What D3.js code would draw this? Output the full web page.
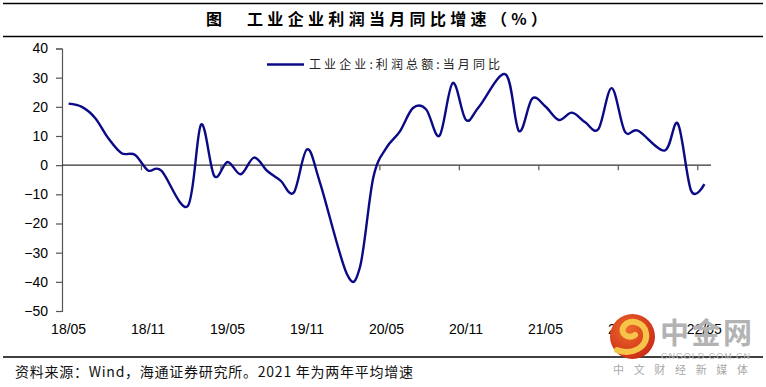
<!DOCTYPE html>
<html lang="zh">
<head>
<meta charset="UTF-8">
<title>工业企业利润当月同比增速</title>
<script src="https://d3js.org/d3.v7.min.js"></script>
<style>
  body { margin: 0; background: #fff; }
  svg text { font-family: "Liberation Sans", Arial, sans-serif; }
  .cjk { font-family: "Noto Sans CJK SC", sans-serif; }
</style>
</head>
<body>
<svg id="chart" width="766" height="387"></svg>
<script>
// months from 2018/05 to 2022/05 (January is merged into Jan-Feb, so it is blank)
const months = [
  "18/05","18/06","18/07","18/08","18/09","18/10","18/11","18/12",
  "19/01","19/02","19/03","19/04","19/05","19/06","19/07","19/08","19/09","19/10","19/11","19/12",
  "20/01","20/02","20/03","20/04","20/05","20/06","20/07","20/08","20/09","20/10","20/11","20/12",
  "21/01","21/02","21/03","21/04","21/05","21/06","21/07","21/08","21/09","21/10","21/11","21/12",
  "22/01","22/02","22/03","22/04","22/05"
];
const profitYoY = [
  21.1, 20.0, 16.2, 9.2, 4.1, 3.6, -1.8, -1.9,
  null, -14.0, 13.9, -3.7, 1.1, -3.1, 2.6, -2.0, -5.3, -9.4, 5.4, -6.3,
  null, -37.2, -34.9, -4.3, 6.0, 11.5, 19.6, 19.1, 10.1, 28.2, 15.5, 20.1,
  null, 31.1, 11.7, 22.8, 20.1, 15.5, 18.0, 14.7, 12.4, 26.4, 11.5, 11.8,
  null, 5.0, 14.2, -8.8, -6.5
];
const xTickLabels = ["18/05","18/11","19/05","19/11","20/05","20/11","21/05","21/11","22/05"];
const yTicks = [40, 30, 20, 10, 0, -10, -20, -30, -40, -50];
const seriesName = "工业企业:利润总额:当月同比";
const title = "工业企业利润当月同比增速（%）";
const source = "资料来源：Wind，海通证券研究所。2021 年为两年平均增速";

const svg = d3.select("#chart");

const x = d3.scaleBand().domain(months).range([62, 711]).padding(0);
const y = d3.scaleLinear().domain([-50, 40]).range([311, 48.5]);

// header and footer rules
svg.append("line").attr("x1", 3).attr("x2", 763).attr("y1", 3.5).attr("y2", 3.5)
  .attr("stroke", "#000").attr("stroke-width", 1.5);
svg.append("line").attr("x1", 3).attr("x2", 763).attr("y1", 36.5).attr("y2", 36.5)
  .attr("stroke", "#000").attr("stroke-width", 1.5);
svg.append("line").attr("x1", 3).attr("x2", 763).attr("y1", 357).attr("y2", 357)
  .attr("stroke", "#000").attr("stroke-width", 1.5);

svg.append("text").attr("class", "cjk")
  .attr("x", 206).attr("y", 25)
  .attr("font-size", 16).attr("font-weight", "bold")
  .text("图");
svg.append("text").attr("class", "cjk")
  .attr("x", 247).attr("y", 25)
  .attr("font-size", 16).attr("font-weight", "bold")
  .attr("textLength", 300).attr("lengthAdjust", "spacing")
  .text(title);

// y axis
const yAxis = svg.append("g")
  .attr("transform", "translate(62,0)")
  .call(d3.axisLeft(y).tickValues(yTicks).tickSize(6).tickPadding(8).tickFormat(d3.format("d")));
yAxis.select(".domain").attr("stroke", "#555").attr("stroke-width", 1.2);
yAxis.selectAll(".tick line").attr("stroke", "#555").attr("stroke-width", 1.2);
yAxis.selectAll("text").attr("font-size", 14).attr("fill", "#000")
  .attr("font-family", "Liberation Sans, Arial, sans-serif");

// zero line with ticks every six months
svg.append("line")
  .attr("x1", x.range()[0]).attr("x2", x.range()[1])
  .attr("y1", y(0)).attr("y2", y(0))
  .attr("stroke", "#333").attr("stroke-width", 1.3);
svg.selectAll(".xtick").data(xTickLabels.slice(1)).enter().append("line")
  .attr("class", "xtick")
  .attr("x1", d => x(d)).attr("x2", d => x(d))
  .attr("y1", y(0)).attr("y2", y(0) + 5)
  .attr("stroke", "#555").attr("stroke-width", 1.2);
svg.selectAll(".xlabel").data(xTickLabels).enter().append("text")
  .attr("class", "xlabel")
  .attr("x", d => x(d) + x.bandwidth() / 2)
  .attr("y", 334)
  .attr("text-anchor", "middle")
  .attr("font-size", 14)
  .text(d => d);

// series (blank months are skipped and the line continues)
const pts = months.map((m, i) => ({ m, v: profitYoY[i] })).filter(d => d.v != null);
const line = d3.line()
  .x(d => x(d.m) + x.bandwidth() / 2)
  .y(d => y(d.v))
  .curve(d3.curveCardinal.tension(0));
svg.append("path").datum(pts)
  .attr("d", line)
  .attr("fill", "none")
  .attr("stroke", "#0a0a86")
  .attr("stroke-width", 2.4)
  .attr("stroke-linejoin", "round");

// legend
svg.append("line").attr("x1", 267).attr("x2", 304).attr("y1", 64.5).attr("y2", 64.5)
  .attr("stroke", "#0a0a86").attr("stroke-width", 2.4);
svg.append("text").attr("class", "cjk")
  .attr("x", 309).attr("y", 69)
  .attr("font-size", 12).attr("fill", "#222")
  .attr("textLength", 191).attr("lengthAdjust", "spacing")
  .text(seriesName);

// source
svg.append("text").attr("class", "cjk")
  .attr("x", 15).attr("y", 377)
  .attr("font-size", 14).attr("fill", "#111")
  .attr("textLength", 398).attr("lengthAdjust", "spacing")
  .text(source);

// watermark
const wm = svg.append("g");
const grad = svg.append("defs").append("radialGradient").attr("id", "wmg")
  .attr("cx", "40%").attr("cy", "35%").attr("r", "70%");
grad.append("stop").attr("offset", "0%").attr("stop-color", "#ef6a2a");
grad.append("stop").attr("offset", "100%").attr("stop-color", "#c92a17");
wm.append("circle").attr("cx", 632.5).attr("cy", 336.5).attr("r", 22.5).attr("fill", "url(#wmg)");
wm.append("path")
  .attr("d", "M617,350 C632,356 648,347 646,333 C644,322 630,318 624,326 C619,333 628,340 635,335")
  .attr("fill", "none").attr("stroke", "#f7c44a").attr("stroke-width", 6).attr("stroke-linecap", "round");
wm.append("text").attr("class", "cjk")
  .attr("x", 660).attr("y", 344).attr("font-size", 29).attr("font-weight", "bold")
  .attr("fill", "#b3b3b3").attr("textLength", 92).attr("lengthAdjust", "spacing")
  .text("中金网");
wm.append("text")
  .attr("x", 661).attr("y", 359).attr("font-size", 9)
  .attr("fill", "#bdbdbd").attr("textLength", 89).attr("lengthAdjust", "spacing")
  .text("CNGOLD.COM.CN");
wm.append("text").attr("class", "cjk")
  .attr("x", 613).attr("y", 374).attr("font-size", 11)
  .attr("fill", "#a8a8a8").attr("textLength", 135).attr("lengthAdjust", "spacing")
  .text("中文财经新媒体");
</script>
</body>
</html>
